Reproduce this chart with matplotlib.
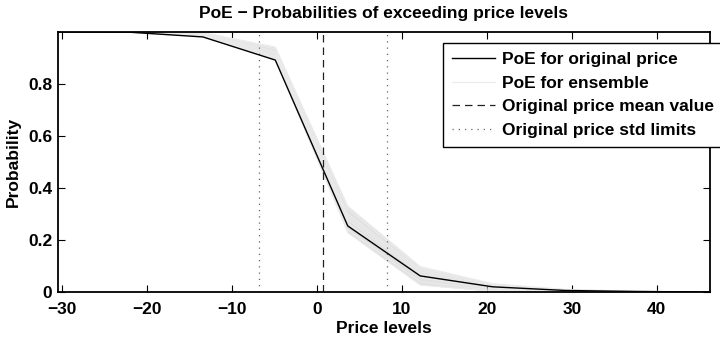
import numpy as np
import matplotlib.pyplot as plt

plt.rcParams['font.family'] = ['Liberation Sans', 'DejaVu Sans']
plt.rcParams['font.weight'] = 'bold'
plt.rcParams['font.size'] = 12.5

# price levels where the PoE is evaluated
price_levels = [-30.47, -21.95, -13.42, -4.90, 3.63, 12.15, 20.68, 29.20, 37.73, 46.25]

poe_original = [1.0, 0.999, 0.981, 0.892, 0.254, 0.062, 0.020, 0.006, 0.002, 0.0]

# ensemble members
poe_ens_1 = [1.0, 1.0, 0.998, 0.942, 0.330, 0.098, 0.032, 0.010, 0.003, 0.0]
poe_ens_2 = [1.0, 1.0, 0.996, 0.935, 0.320, 0.092, 0.030, 0.009, 0.003, 0.0]
poe_ens_3 = [1.0, 1.0, 0.994, 0.925, 0.300, 0.085, 0.026, 0.008, 0.002, 0.0]
poe_ens_4 = [1.0, 1.0, 0.992, 0.918, 0.290, 0.078, 0.022, 0.007, 0.002, 0.0]
poe_ens_5 = [1.0, 1.0, 0.990, 0.910, 0.280, 0.070, 0.018, 0.006, 0.002, 0.0]
poe_ens_6 = [1.0, 1.0, 0.988, 0.905, 0.265, 0.055, 0.012, 0.004, 0.001, 0.0]
poe_ens_7 = [1.0, 0.999, 0.985, 0.900, 0.240, 0.040, 0.006, 0.002, 0.001, 0.0]
poe_ens_8 = [1.0, 0.999, 0.983, 0.895, 0.228, 0.027, 0.003, 0.001, 0.0, 0.0]
ensemble = [poe_ens_1, poe_ens_2, poe_ens_3, poe_ens_4,
            poe_ens_5, poe_ens_6, poe_ens_7, poe_ens_8]

price_mean = 0.7
price_std = 7.5

fig = plt.figure(figsize=(7.2, 3.39), dpi=100)
ax = fig.add_axes([0.0806, 0.1386, 0.9054, 0.767])

ens = np.array(ensemble)
ax.fill_between(price_levels, ens.min(axis=0), ens.max(axis=0),
                color='#e1e1e1', lw=0)
for i, e in enumerate(ensemble):
    ax.plot(price_levels, e, color='#ebebeb', lw=0.8,
            label='PoE for ensemble' if i == 0 else None)
ax.plot(price_levels, poe_original, color='black', lw=1.0,
        label='PoE for original price', zorder=5)
ax.axvline(price_mean, color='#222222', lw=0.9, ls=(0, (6, 4)),
           label='Original price mean value')
ax.axvline(price_mean - price_std, color='#666666', lw=0.9, ls=(0, (1, 4)),
           label='Original price std limits')
ax.axvline(price_mean + price_std, color='#666666', lw=0.9, ls=(0, (1, 4)))

ax.set_xlim(price_levels[0], price_levels[-1])
ax.set_ylim(0, 1)
ax.set_xticks([-30, -20, -10, 0, 10, 20, 30, 40])
ax.set_yticks([0, 0.2, 0.4, 0.6, 0.8])
ax.set_yticklabels(['0', '0.2', '0.4', '0.6', '0.8'])
ax.tick_params(direction='in', length=5, width=0.8, top=True, right=True,
               labelsize=12.5)
ax.tick_params(axis='x', pad=7)
ax.tick_params(axis='y', pad=4)
for s in ax.spines.values():
    s.set_linewidth(1.3)

ax.set_title('PoE \u2212 Probabilities of exceeding price levels',
             fontsize=12.5, fontweight='bold', pad=10)
ax.set_xlabel('Price levels', fontsize=12.5, fontweight='bold', labelpad=3)
ax.set_ylabel('Probability', fontsize=12.5, fontweight='bold', labelpad=5)

h, l = ax.get_legend_handles_labels()
order = [l.index('PoE for original price'), l.index('PoE for ensemble'),
         l.index('Original price mean value'), l.index('Original price std limits')]
leg = ax.legend([h[i] for i in order], [l[i] for i in order],
                loc='upper left', bbox_to_anchor=(443 / 720, 1 - 43 / 339),
                bbox_transform=fig.transFigure, fancybox=False,
                edgecolor='black', framealpha=1, handlelength=2.5,
                handletextpad=0.4, borderpad=0.5, borderaxespad=0,
                labelspacing=0.5, prop={'weight': 'bold', 'size': 12.5})
leg.get_frame().set_linewidth(1.0)
leg.set_zorder(10)

fig.savefig('out.png', dpi=100)
